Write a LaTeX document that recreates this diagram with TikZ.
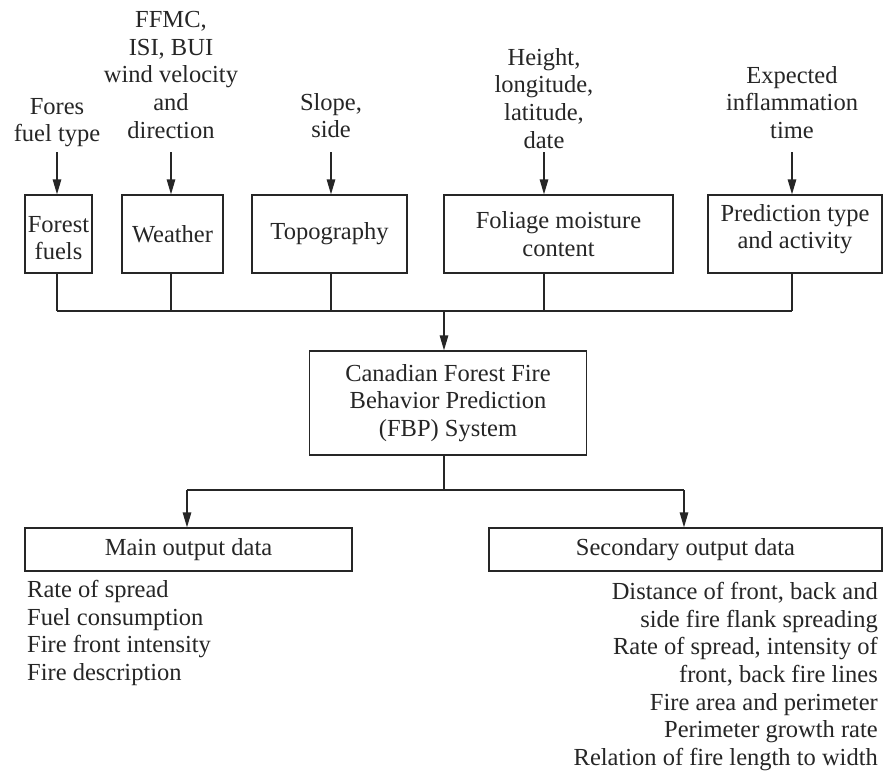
\documentclass[tikz,border=0pt]{standalone}
\usepackage{fontspec}
\setmainfont{Liberation Serif}
\usetikzlibrary{arrows.meta,calc}
\definecolor{ink}{HTML}{262626}
\begin{document}
\begin{tikzpicture}[x=1pt,y=-1pt,
  every node/.style={font=\fontsize{24.5}{27.7}\selectfont, inner sep=0pt, text=ink},
  box/.style={draw=ink, line width=1.3pt, align=center},
  lbl/.style={align=center, anchor=north},
  conn/.style={draw=ink, line width=1.3pt},
  arr/.style={conn, -{Triangle[length=15pt,width=8.5pt]}}]
\fill[white] (0,0) rectangle (887,771);
\useasboundingbox (0,0) rectangle (887,771);

% top boxes
\node[box, minimum width=67pt, minimum height=78pt] (fuels) at (58.5,234) {};
\node[align=center] (fuelsT) at (58.5,238) {Forest\\fuels};
\node[box, minimum width=101pt, minimum height=78pt] (weather) at (172.5,234) {Weather};
\node[box, minimum width=155pt, minimum height=78pt] (topo) at (329.5,234) {Topography};
\node[box, minimum width=229pt, minimum height=78pt] (foliage) at (558.5,234) {Foliage moisture\\content};
\node[box, minimum width=174pt, minimum height=78pt] (pred) at (795,234) {};
\node[align=center] (predT) at (795,229) {Prediction type\\and activity};

% input labels
\node[lbl] (inFuels) at (57,98) {Fores\\fuel type};
\node[lbl] (inWeather) at (171,11) {FFMC,\\ISI, BUI\\wind velocity\\and\\direction};
\node[lbl] (inTopo) at (331,93) {Slope,\\side};
\node[lbl] (inFoliage) at (544,48) {Height,\\longitude,\\latitude,\\date};
\node[lbl] (inPred) at (792,66) {Expected\\inflammation\\time};

\coordinate (topA) at (0,152);
\coordinate (busY) at (0,311);

\foreach \l/\b in {inFuels/fuels, inWeather/weather, inTopo/topo, inFoliage/foliage, inPred/pred}{
  \draw[arr] (\l |- topA) -- (\l |- \b.north);
  \draw[conn] (\l |- \b.south) -- (\l |- busY);
}
\draw[conn] (inFuels |- busY) -- (inPred |- busY);

% central box
\node[box, minimum width=277pt, minimum height=104pt] (fbp) at (448,403) {Canadian Forest Fire\\Behavior Prediction\\(FBP) System};
\coordinate (hub) at (444,311);
\draw[arr] (hub) -- (hub |- fbp.north);
\coordinate (split) at (444,490);
\draw[conn] (hub |- fbp.south) -- (split);

% outputs
\node[box, minimum width=327pt, minimum height=43pt] (main) at (188.5,549.5) {Main output data};
\node[box, minimum width=393pt, minimum height=43pt] (sec) at (685.5,549.5) {Secondary output data};
\coordinate (mainTap) at (187,490);
\coordinate (secTap) at (684,490);
\draw[conn] (mainTap) -- (secTap);
\draw[arr] (mainTap) -- (mainTap |- main.north);
\draw[arr] (secTap) -- (secTap |- sec.north);

\node[align=left, anchor=north west] (mainList) at (27,580) {Rate of spread\\Fuel consumption\\Fire front intensity\\Fire description};
\node[align=right, anchor=north east] (secList) at (878,582) {Distance of front, back and\\side fire flank spreading\\Rate of spread, intensity of\\front, back fire lines\\Fire area and perimeter\\Perimeter growth rate\\Relation of fire length to width};
\end{tikzpicture}
\end{document}
